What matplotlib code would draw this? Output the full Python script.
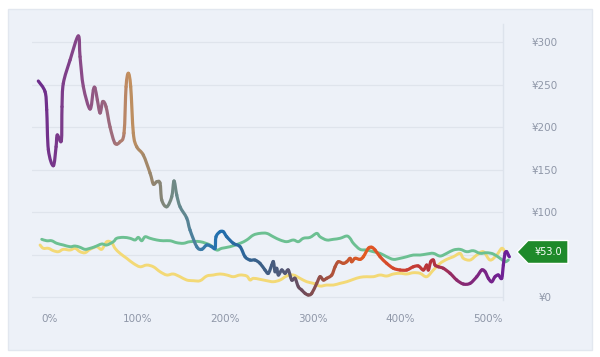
import numpy as np
import matplotlib
matplotlib.use("Agg")
import matplotlib.pyplot as plt
from matplotlib.colors import LinearSegmentedColormap
from matplotlib.patches import FancyBboxPatch, Polygon, PathPatch
from matplotlib.path import Path

# ---------------- data ----------------
main_x = [-13.4, -5.7, -3.8, -1.9, 3.8, 6.9, 8.3, 13.0, 13.7, 15.2, 22.9, 32.3, 34.3, 38.1,
          45.7, 49.5, 51.4, 54.1, 57.2, 60.2, 64.0, 68.6, 74.3, 80.0, 84.6, 86.9, 89.5, 92.2,
          95.2, 99.1, 106.6, 114.3, 118.1, 121.9, 125.7, 127.7, 133.4, 139.1, 141.7, 144.8,
          148.6, 156.2, 160.0, 167.7, 173.4, 179.1, 184.8, 188.6, 189.7, 194.3, 198.1, 202.0,
          209.5, 217.2, 222.9, 228.6, 234.3, 240.0, 245.7, 249.5, 253.4, 255.3, 257.2, 259.1,
          261.0, 264.8, 268.6, 272.3, 276.2, 280.0, 283.8, 287.7, 291.5, 295.2, 299.1, 304.8,
          308.6, 312.4, 316.2, 322.0, 325.8, 329.5, 335.2, 339.1, 342.9, 344.8, 348.6, 354.3,
          358.1, 363.8, 367.7, 371.5, 377.2, 384.8, 392.4, 400.0, 407.7, 415.2, 421.0, 426.7,
          430.5, 432.4, 435.1, 438.1, 440.0, 443.8, 449.5, 457.2, 464.8, 472.4, 480.1, 487.7,
          493.4, 497.2, 501.0, 504.8, 508.6, 512.4, 516.2, 518.1, 520.0, 521.9, 523.8, 525.0]
main_v = [254.1, 241.6, 220.3, 173.3, 154.5, 176.8, 190.6, 183.9, 223.9, 251.4, 278.8, 307.1,
          282.7, 247.4, 221.2, 243.5, 245.9, 231.8, 216.5, 229.8, 223.9, 200.0, 180.8, 182.7,
          192.9, 247.4, 263.2, 247.4, 192.9, 176.8, 167.1, 145.9, 132.9, 135.6, 134.1, 114.1,
          106.2, 118.0, 136.5, 120.0, 106.2, 92.9, 78.8, 59.2, 56.1, 61.2, 59.2, 57.3, 70.9,
          76.8, 76.8, 70.9, 63.2, 59.2, 47.4, 43.5, 43.5, 39.6, 31.8, 27.9, 37.6, 41.5, 29.8,
          33.8, 25.9, 31.8, 27.9, 31.8, 20.0, 22.0, 12.1, 8.2, 4.3, 2.4, 4.3, 16.1, 23.9, 20.0,
          22.0, 25.9, 35.6, 41.5, 39.6, 41.5, 45.5, 41.5, 45.5, 44.3, 47.4, 57.3, 58.5, 55.3,
          47.4, 39.6, 33.8, 31.8, 31.8, 35.6, 36.5, 31.8, 37.6, 31.8, 41.5, 43.5, 37.6, 35.6,
          33.8, 27.9, 20.0, 15.3, 16.1, 23.9, 31.8, 29.8, 22.0, 18.0, 23.9, 25.9, 22.0, 37.6,
          51.4, 53.3, 49.4, 47.4]

green_x = [-9.5, -3.8, 1.9, 7.7, 15.2, 22.9, 28.6, 34.3, 40.0, 45.7, 51.4, 59.1, 64.8, 72.4,
           76.2, 83.8, 91.4, 97.2, 100.9, 104.8, 108.6, 114.3, 122.0, 129.5, 137.2, 144.8,
           152.4, 160.0, 171.5, 182.9, 190.5, 196.2, 205.7, 217.2, 224.8, 232.4, 240.0, 247.7,
           255.2, 262.9, 270.5, 278.1, 283.8, 289.5, 297.2, 304.8, 308.6, 316.2, 323.8, 331.5,
           339.1, 342.9, 346.7, 354.3, 362.0, 369.5, 377.2, 384.8, 392.4, 400.0, 407.7, 415.2,
           422.9, 430.5, 438.1, 445.8, 453.4, 461.0, 468.6, 476.3, 483.8, 491.5, 499.2, 506.7,
           514.4, 520.0, 523.8]
green_v = [67.9, 66.2, 66.2, 63.2, 61.2, 59.2, 60.0, 58.5, 56.1, 57.3, 59.2, 62.4, 61.2, 65.1,
           69.1, 70.2, 69.1, 67.1, 70.2, 66.2, 70.9, 69.1, 67.1, 66.2, 66.2, 63.9, 63.2, 65.1,
           65.1, 61.2, 55.3, 57.3, 59.2, 63.2, 67.1, 72.9, 74.9, 74.9, 70.9, 67.1, 65.1, 67.1,
           65.1, 69.1, 70.2, 74.9, 70.9, 67.1, 67.9, 69.1, 71.8, 69.1, 63.2, 56.1, 55.3, 53.3,
           51.4, 47.4, 44.3, 45.5, 47.4, 49.4, 49.4, 50.6, 51.4, 48.2, 51.4, 55.3, 56.1, 53.3,
           54.5, 51.4, 52.1, 50.6, 45.5, 41.5, 43.5]

yellow_x = [-11.4, -7.7, -1.9, 3.8, 9.5, 15.2, 22.9, 28.6, 34.3, 40.0, 45.7, 53.4, 59.1, 64.8,
            70.5, 74.3, 80.0, 87.7, 95.2, 102.9, 110.5, 118.1, 125.7, 133.4, 140.9, 148.6,
            156.2, 163.8, 171.5, 179.1, 186.6, 194.3, 202.0, 209.5, 217.2, 224.8, 228.6, 232.4,
            240.0, 247.7, 255.2, 262.9, 270.5, 278.1, 285.7, 293.4, 301.0, 308.6, 316.2, 323.8,
            331.5, 339.1, 346.7, 354.3, 362.0, 369.5, 377.2, 384.8, 392.4, 400.0, 407.7, 415.2,
            422.9, 430.5, 438.1, 445.8, 453.4, 461.0, 468.6, 472.4, 480.1, 487.7, 495.3, 502.9,
            510.5, 516.2, 520.0]
yellow_v = [61.2, 57.3, 57.3, 54.5, 53.3, 56.1, 55.3, 57.3, 53.3, 52.1, 56.1, 59.2, 56.1, 65.1,
            63.9, 57.3, 51.4, 45.5, 39.6, 35.6, 37.6, 35.6, 29.8, 25.9, 27.1, 23.9, 20.0, 19.2,
            19.2, 24.7, 25.9, 27.1, 25.9, 23.9, 25.9, 24.7, 20.0, 22.0, 20.8, 19.2, 18.0, 20.0,
            24.7, 25.9, 22.0, 18.0, 16.1, 12.9, 14.1, 14.1, 16.1, 18.0, 20.8, 23.2, 23.9, 23.9,
            25.9, 24.7, 27.1, 27.9, 27.1, 28.6, 27.9, 23.9, 31.8, 39.6, 44.3, 47.4, 51.4, 45.5,
            43.5, 49.4, 53.3, 43.5, 49.4, 57.3, 53.3]

x_ticks = [0, 100, 200, 300, 400, 500]
x_labels = ["0%", "100%", "200%", "300%", "400%", "500%"]
y_ticks = [0, 50, 100, 150, 200, 250, 300]
y_labels = ["¥0", "¥50", "¥100", "¥150", "¥200", "¥250", "¥300"]
tag_value = 53.0
tag_text = "¥53.0"

# gradient anchors for the main line (position along x, colour)
grad_pos = [-14, 35, 75, 90, 120, 145, 175, 195, 240, 265, 290, 325, 360, 400, 435, 470, 526]
grad_col = ["#6b2a8c", "#8a4a88", "#a0707a", "#c48f5e", "#8f8470", "#6b8a88", "#3a7aa8",
            "#1f6fb0", "#3a5f88", "#4f5a7a", "#6e4a5a", "#b0523a", "#e35a22", "#d04430",
            "#b8333a", "#8a2a70", "#6a1f9a"]


def smooth_segments(xs, ys):
    """Catmull-Rom style Bezier segments (drawing only, passes through every point)."""
    p = np.column_stack([xs, ys]).astype(float)
    n = len(p)
    segs = []
    for i in range(n - 1):
        p0 = p[i - 1] if i > 0 else p[i]
        p1 = p[i]
        p2 = p[i + 1]
        p3 = p[i + 2] if i + 2 < n else p[i + 1]
        c1 = p1 + (p2 - p0) / 6.0
        c2 = p2 - (p3 - p1) / 6.0
        c1[0] = np.clip(c1[0], p1[0], p2[0])
        c2[0] = np.clip(c2[0], p1[0], p2[0])
        segs.append((p1, c1, c2, p2))
    return segs


def smooth_path(xs, ys):
    segs = smooth_segments(xs, ys)
    verts = [segs[0][0]]
    codes = [Path.MOVETO]
    for _, c1, c2, p2 in segs:
        verts += [c1, c2, p2]
        codes += [Path.CURVE4] * 3
    return Path(verts, codes)


# ---------------- figure ----------------
W, H = 600, 357
fig = plt.figure(figsize=(W / 100, H / 100), dpi=100, facecolor="white")

panel = FancyBboxPatch((8 / W, 1 - 350 / H), 584 / W, 341 / H,
                       boxstyle="square,pad=0", transform=fig.transFigure,
                       facecolor="#edf1f8", edgecolor="#e2e7ef", lw=1.0, zorder=-10)
fig.add_artist(panel)

ax = fig.add_axes([32 / W, 1 - 300 / H, (503 - 32) / W, (300 - 24) / H], zorder=1)
ax.set_facecolor("none")
xl = (-20.6, 517.7)
yl = (-3.5, 321.2)

for s in ["top", "left", "bottom"]:
    ax.spines[s].set_visible(False)
ax.spines["right"].set_color("#dde3ec")
ax.spines["right"].set_linewidth(1.0)

for yv in y_ticks:
    ax.axhline(yv, color="#dfe4ec", lw=0.9, zorder=1)

# series
for xs, ys, col, z in [(yellow_x, yellow_v, "#f3d976", 3), (green_x, green_v, "#6cc092", 4)]:
    ax.add_patch(PathPatch(smooth_path(xs, ys), facecolor="none", edgecolor=col, lw=2.1,
                           capstyle="round", joinstyle="round", zorder=z, clip_on=False))

cmap = LinearSegmentedColormap.from_list(
    "g", [((p - grad_pos[0]) / (grad_pos[-1] - grad_pos[0]), c) for p, c in zip(grad_pos, grad_col)])
norm = plt.Normalize(grad_pos[0], grad_pos[-1])
for p1, c1, c2, p2 in smooth_segments(main_x, main_v):
    col = cmap(norm((p1[0] + p2[0]) / 2))
    ax.add_patch(PathPatch(Path([p1, c1, c2, p2], [Path.MOVETO] + [Path.CURVE4] * 3),
                           facecolor="none", edgecolor=col, lw=2.3, capstyle="round",
                           joinstyle="round", zorder=5, clip_on=False))

# ticks
ax.set_xticks(x_ticks)
ax.set_xticklabels(x_labels)
ax.tick_params(axis="x", length=0, pad=10, colors="#8f97a8", labelsize=7.5)
ax.yaxis.tick_right()
ax.set_yticks(y_ticks)
ax.set_yticklabels(y_labels)
ax.tick_params(axis="y", length=0, pad=30, colors="#8f97a8", labelsize=7.5)
for t in ax.get_yticklabels():
    t.set_horizontalalignment("center")
    if t.get_text() == y_labels[1]:
        t.set_visible(False)

# current value tag
trans = ax.get_yaxis_transform()
yt = tag_value
tipx = 1.0 + 14 / 471
bodyx = 1.0 + 25 / 471
endx = 1.0 + 65 / 471
hh = 11.5 / 276 * (yl[1] - yl[0])
tag = Polygon([(tipx, yt), (bodyx, yt + hh), (endx, yt + hh), (endx, yt - hh), (bodyx, yt - hh)],
              closed=True, transform=trans, facecolor="#1f8a2a", edgecolor="white",
              lw=1.0, clip_on=False, zorder=6)
ax.add_patch(tag)
tag_cmap = LinearSegmentedColormap.from_list("t", ["#34a832", "#1c8a2a", "#0c6a26"])
im = ax.imshow(np.linspace(0, 1, 64).reshape(1, -1), cmap=tag_cmap, aspect="auto",
               extent=[tipx, endx, yt - hh, yt + hh], transform=trans, zorder=6.5,
               interpolation="bilinear")
im.set_clip_path(tag)
ax.text((bodyx + endx) / 2, yt, tag_text, transform=trans, ha="center", va="center",
        color="white", fontsize=7, zorder=7, clip_on=False)

ax.set_xlim(*xl)
ax.set_ylim(*yl)
ax.set_aspect("auto")

fig.savefig("out.png", dpi=100, facecolor="white")
